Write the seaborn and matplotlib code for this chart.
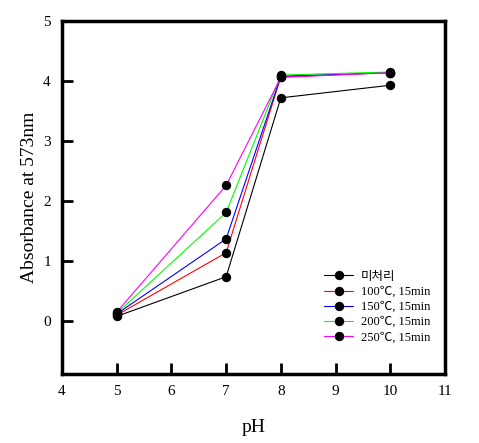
import matplotlib
matplotlib.use("Agg")
import matplotlib.pyplot as plt
import seaborn as sns

sns.set_style("ticks")
plt.rcParams["font.family"] = ["Liberation Serif", "Noto Sans CJK KR", "DejaVu Sans"]

ph = [5, 7, 8, 10]
untreated = [0.08, 0.74, 3.72, 3.93]
t100 = [0.10, 1.14, 4.07, 4.14]
t150 = [0.12, 1.37, 4.08, 4.14]
t200 = [0.13, 1.81, 4.10, 4.15]
t250 = [0.15, 2.26, 4.06, 4.14]

labels = ["미처리", "100℃, 15min", "150℃, 15min", "200℃, 15min", "250℃, 15min"]
series = [untreated, t100, t150, t200, t250]
colors = ["black", "red", "blue", "#00ff00", "magenta"]

fig = plt.figure(figsize=(4.79, 4.43), dpi=100)
ax = fig.add_axes([0.1294, 0.1558, 0.7996, 0.7968])

for vals, lab, col in zip(series, labels, colors):
    sns.lineplot(x=ph, y=vals, ax=ax, color=col, linewidth=0.8, marker="o",
                 markersize=6, markerfacecolor="black", markeredgecolor="black",
                 label=lab)

ax.set_xlim(4, 11)
ax.set_ylim(-0.88, 5)
ax.set_xticks(range(4, 12))
ax.set_yticks(range(0, 6))
ax.set_xlabel("pH", fontsize=14, labelpad=15, color="black")
ax.set_ylabel("Absorbance at 573nm", fontsize=14, color="black")
ax.tick_params(direction="in", length=8, width=2, labelsize=11, pad=8,
               color="black", labelcolor="black")
for s in ax.spines.values():
    s.set_linewidth(2.5)
    s.set_color("black")

leg = ax.legend(loc="lower right", bbox_to_anchor=(0.99, 0.055), frameon=False,
                fontsize=9, handlelength=2.3, handletextpad=0.6, labelspacing=0.25)
for t in leg.get_texts():
    t.set_color("black")

fig.savefig("out.png", dpi=100)
